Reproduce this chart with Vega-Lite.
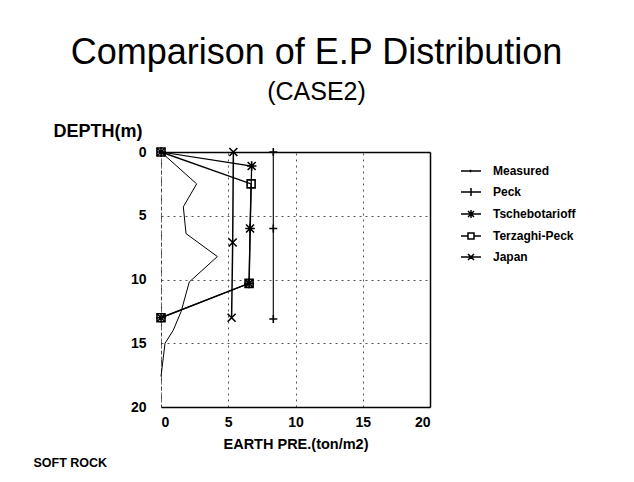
{
  "$schema": "https://vega.github.io/schema/vega-lite/v6.json",
  "width": 269,
  "height": 255,
  "autosize": {"type": "none"},
  "padding": {"left": 161, "top": 152, "right": 204, "bottom": 75},
  "background": "white",
  "title": {
    "text": "Comparison of E.P Distribution",
    "subtitle": "(CASE2)",
    "font": "Liberation Sans",
    "subtitleFont": "Liberation Sans",
    "fontSize": 36,
    "subtitleFontSize": 25,
    "fontWeight": "normal",
    "color": "black",
    "subtitleColor": "black",
    "anchor": "middle",
    "frame": "group",
    "dx": 21,
    "offset": 16,
    "subtitlePadding": 8
  },
  "config": {"view": {"stroke": null}, "font": "Liberation Sans"},
  "datasets": {
    "pts": [
      {"series": "Measured", "ord": 1, "p": 0, "d": 0},
      {"series": "Measured", "ord": 2, "p": 2.65, "d": 2.5},
      {"series": "Measured", "ord": 3, "p": 1.66, "d": 4.3},
      {"series": "Measured", "ord": 4, "p": 1.86, "d": 6.4},
      {"series": "Measured", "ord": 5, "p": 4.19, "d": 8.2},
      {"series": "Measured", "ord": 6, "p": 2.1, "d": 10.2},
      {"series": "Measured", "ord": 7, "p": 1.5, "d": 12.5},
      {"series": "Measured", "ord": 8, "p": 0.9, "d": 14},
      {"series": "Measured", "ord": 9, "p": 0.3, "d": 15},
      {"series": "Measured", "ord": 10, "p": 0, "d": 17.6},
      {"series": "Peck", "ord": 1, "p": 8.35, "d": 0},
      {"series": "Peck", "ord": 2, "p": 8.35, "d": 6},
      {"series": "Peck", "ord": 3, "p": 8.35, "d": 13.1},
      {"series": "Tschebotarioff", "ord": 1, "p": 0, "d": 0},
      {"series": "Tschebotarioff", "ord": 2, "p": 6.74, "d": 1.1},
      {"series": "Tschebotarioff", "ord": 3, "p": 6.62, "d": 6},
      {"series": "Tschebotarioff", "ord": 4, "p": 6.55, "d": 10.3},
      {"series": "Tschebotarioff", "ord": 5, "p": 0, "d": 13},
      {"series": "Terzaghi-Peck", "ord": 1, "p": 0, "d": 0},
      {"series": "Terzaghi-Peck", "ord": 2, "p": 6.7, "d": 2.5},
      {"series": "Terzaghi-Peck", "ord": 3, "p": 6.55, "d": 10.3},
      {"series": "Terzaghi-Peck", "ord": 4, "p": 0, "d": 13},
      {"series": "Japan", "ord": 1, "p": 5.38, "d": 0},
      {"series": "Japan", "ord": 2, "p": 5.33, "d": 7.1},
      {"series": "Japan", "ord": 3, "p": 5.25, "d": 13}
    ]
  },
  "data": {"name": "pts"},
  "layer": [
    {
      "mark": {"type": "line", "color": "black"},
      "encoding": {
        "x": {
          "field": "p", "type": "quantitative",
          "scale": {"domain": [0, 20], "nice": false},
          "axis": {
            "values": [0, 5, 10, 15, 20],
            "grid": true, "gridDash": [2, 4], "gridColor": "#555", "gridWidth": 1,
            "ticks": false,
            "domainColor": "black", "domainWidth": 1.5,
            "labelFont": "Liberation Sans", "labelFontSize": 14, "labelFontWeight": "bold", "labelColor": "black",
            "labelPadding": 8,
            "title": "EARTH PRE.(ton/m2)",
            "titleFont": "Liberation Sans", "titleFontSize": 14.5, "titleFontWeight": "bold", "titleColor": "black",
            "titlePadding": 8
          }
        },
        "y": {
          "field": "d", "type": "quantitative",
          "scale": {"domain": [0, 20], "nice": false, "reverse": true},
          "axis": {
            "values": [0, 5, 10, 15, 20],
            "grid": true, "gridDash": [2, 4], "gridColor": "#555", "gridWidth": 1,
            "ticks": false,
            "domainColor": "#444", "domainDash": [4, 2, 1, 2],
            "labelFont": "Liberation Sans", "labelFontSize": 14, "labelFontWeight": "bold", "labelColor": "black",
            "labelPadding": 15,
            "title": "DEPTH(m)",
            "titleFont": "Liberation Sans", "titleFontSize": 18, "titleFontWeight": "bold", "titleColor": "black",
            "titleAngle": 0, "titleAlign": "left", "titleBaseline": "middle",
            "titleX": -108, "titleY": -21
          }
        },
        "detail": {"field": "series", "type": "nominal"},
        "order": {"field": "ord", "type": "quantitative"},
        "strokeWidth": {
          "field": "series", "type": "nominal",
          "scale": {"domain": ["Measured", "Peck", "Tschebotarioff", "Terzaghi-Peck", "Japan"], "range": [1, 1.5, 2, 1.7, 1.5]},
          "legend": null
        }
      }
    },
    {
      "transform": [{"filter": "datum.series !== 'Measured'"}],
      "mark": {"type": "point", "filled": false, "color": "black", "strokeWidth": 1.6, "size": 64, "opacity": 1},
      "encoding": {
        "x": {"field": "p", "type": "quantitative", "axis": null},
        "y": {"field": "d", "type": "quantitative", "axis": null},
        "shape": {
          "field": "series", "type": "nominal",
          "scale": {
            "domain": ["Peck", "Tschebotarioff", "Terzaghi-Peck", "Japan"],
            "range": ["M-1,0H1M0,-1V1", "M-1,-1L1,1M-1,1L1,-1M-1.2,0H1.2M0,-1.2V1.2", "square", "M-1,-1L1,1M-1,1L1,-1"]
          },
          "legend": null
        }
      }
    },
    {
      "mark": {"type": "point", "filled": false, "color": "black", "opacity": 0},
      "encoding": {
        "x": {
          "field": "p", "type": "quantitative",
          "axis": {"orient": "top", "labels": false, "ticks": false, "grid": false, "title": null, "domainColor": "black", "domainWidth": 1.5}
        },
        "y": {
          "field": "d", "type": "quantitative",
          "axis": {
            "orient": "right", "labels": false, "ticks": false, "grid": false,
            "domainColor": "black", "domainWidth": 1.5,
            "title": "SOFT ROCK",
            "titleFont": "Liberation Sans", "titleFontSize": 12.5, "titleFontWeight": "bold", "titleColor": "black",
            "titleAngle": 0, "titleAlign": "left", "titleBaseline": "middle",
            "titleX": -397, "titleY": 310
          }
        },
        "shape": {
          "field": "series", "type": "nominal",
          "scale": {
            "domain": ["Measured", "Peck", "Tschebotarioff", "Terzaghi-Peck", "Japan"],
            "range": [
              "M-1,0H1M-0.05,-0.12V0.12",
              "M-1,0H1M0,-0.4V0.4",
              "M-1,0H1M-0.3,-0.3L0.3,0.3M-0.3,0.3L0.3,-0.3M0,-0.4V0.4",
              "M-1,0H-0.3M0.3,0H1M-0.3,-0.3H0.3V0.3H-0.3Z",
              "M-1,0H1M-0.3,-0.3L0.3,0.3M-0.3,0.3L0.3,-0.3"
            ]
          },
          "legend": {
            "orient": "none", "legendX": 299, "legendY": 8,
            "title": null, "padding": 0,
            "symbolSize": 400, "symbolStrokeWidth": 1.5, "symbolStrokeColor": "black",
            "symbolFillColor": "transparent", "symbolOpacity": 1,
            "labelFont": "Liberation Sans", "labelFontSize": 12, "labelFontWeight": "bold", "labelColor": "black",
            "labelOffset": 11, "rowPadding": 4
          }
        }
      }
    }
  ],
  "resolve": {
    "scale": {"shape": "independent"},
    "legend": {"shape": "independent"},
    "axis": {"x": "independent", "y": "independent"}
  }
}
